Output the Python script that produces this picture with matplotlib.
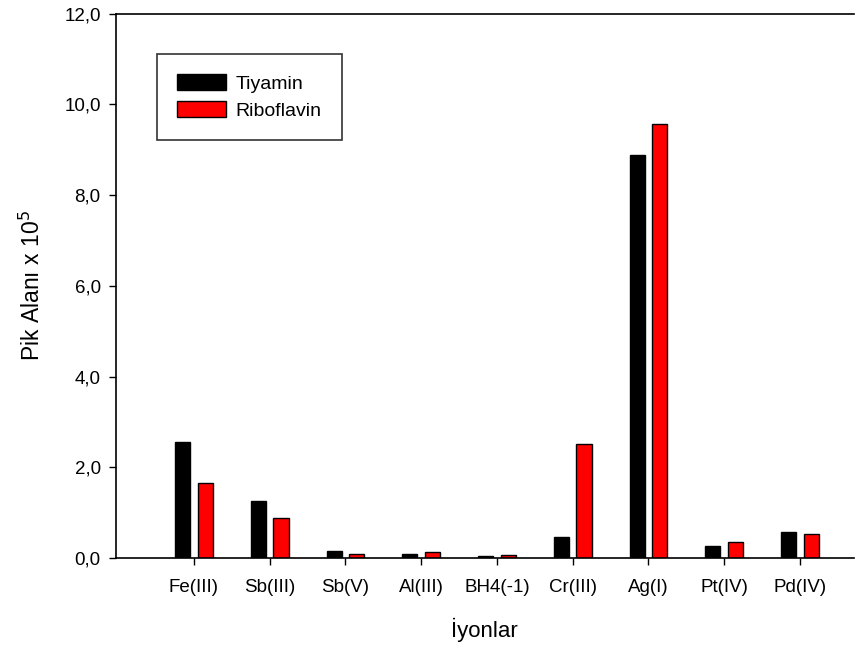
import numpy as np
import matplotlib
matplotlib.use("Agg")
import matplotlib.pyplot as plt
from matplotlib.ticker import FuncFormatter

plt.rcParams.update({"font.family": ["Liberation Sans", "DejaVu Sans"], "font.size": 12})

ions = ["Fe(III)", "Sb(III)", "Sb(V)", "Al(III)", "BH4(-1)", "Cr(III)", "Ag(I)", "Pt(IV)", "Pd(IV)"]
tiyamin = [2.56, 1.26, 0.15, 0.09, 0.04, 0.46, 8.89, 0.26, 0.57]
riboflavin = [1.65, 0.88, 0.08, 0.13, 0.06, 2.51, 9.57, 0.35, 0.53]

fig = plt.figure(figsize=(8.65, 6.55), dpi=100)
ax = fig.add_axes([0.134, 0.148, 0.853, 0.831])

x = np.arange(len(ions))
w = 0.2
ax.bar(x - 0.15, tiyamin, w, color="black", edgecolor="black", lw=1, label="Tiyamin")
ax.bar(x + 0.15, riboflavin, w, color="#ff0000", edgecolor="black", lw=1, label="Riboflavin")

ax.set_xlim(-1.03, 8.71)
ax.set_ylim(0, 12)
ax.set_yticks(np.arange(0, 12.1, 2))
ax.yaxis.set_major_formatter(FuncFormatter(lambda v, p: f"{v:.1f}".replace(".", ",")))
ax.set_xticks(x)
ax.set_xticklabels(ions)
ax.tick_params(direction="out", length=5, width=1, labelsize=13.5)
ax.tick_params(axis="x", pad=10)
ax.tick_params(axis="y", pad=6)
ax.spines["right"].set_visible(False)
for s in ["top", "left", "bottom"]:
    ax.spines[s].set_linewidth(1.2)

ax.set_xlabel("İyonlar", fontsize=16, labelpad=16)
ax.set_ylabel(r"Pik Alanı x 10$^5$", fontsize=16.5, labelpad=14)

leg = ax.legend(loc="upper left", bbox_to_anchor=(0.0556, 0.9265), frameon=True, fancybox=False,
                edgecolor="black", fontsize=14, handlelength=2.5, handleheight=0.9,
                handletextpad=0.5, borderpad=1.05, borderaxespad=0, labelspacing=0.4)
leg.get_frame().set_linewidth(1.2)

fig.savefig("out.png", dpi=100)
